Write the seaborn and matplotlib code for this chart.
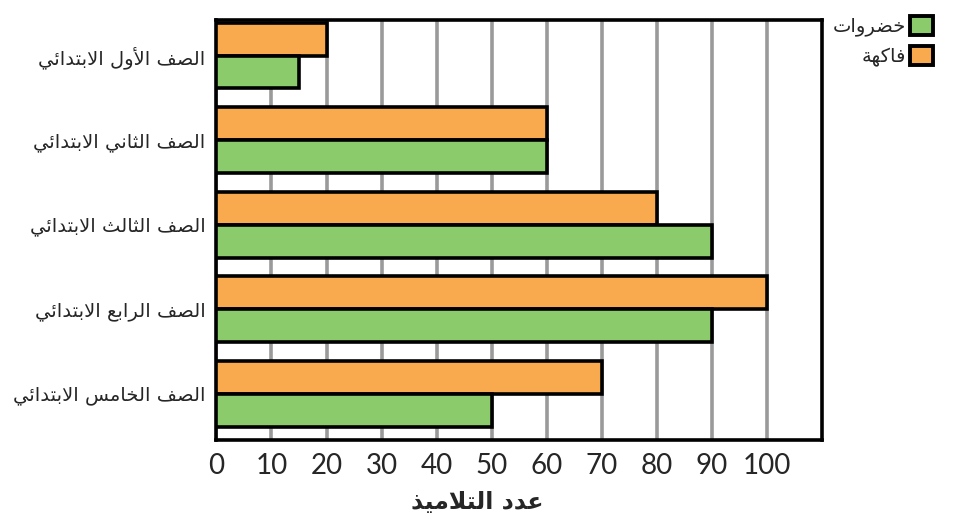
import pandas as pd
import matplotlib.pyplot as plt
import seaborn as sns
from matplotlib.patches import Patch

# data
grades = ["الصف الأول الابتدائي", "الصف الثاني الابتدائي", "الصف الثالث الابتدائي",
          "الصف الرابع الابتدائي", "الصف الخامس الابتدائي"]
veg_label = "خضروات"
fruit_label = "فاكهة"
veg_values = [15, 60, 90, 90, 50]
fruit_values = [20, 60, 80, 100, 70]
x_ticks = [0, 10, 20, 30, 40, 50, 60, 70, 80, 90, 100]
x_title = "عدد التلاميذ"

green = "#8CCB6C"
orange = "#F9AA4E"

# matplotlib does no arabic shaping, so pick presentation forms by hand and flip to RTL
FORMS = {'ء': (0xFE80, 1), 'أ': (0xFE83, 2), 'ئ': (0xFE89, 4), 'ا': (0xFE8D, 2),
         'ب': (0xFE8F, 4), 'ة': (0xFE93, 2), 'ت': (0xFE95, 4), 'ث': (0xFE99, 4),
         'خ': (0xFEA5, 4), 'د': (0xFEA9, 2), 'ذ': (0xFEAB, 2), 'ر': (0xFEAD, 2),
         'س': (0xFEB1, 4), 'ص': (0xFEB9, 4), 'ض': (0xFEBD, 4), 'ع': (0xFEC9, 4),
         'ف': (0xFED1, 4), 'ك': (0xFED9, 4), 'ل': (0xFEDD, 4), 'م': (0xFEE1, 4),
         'ن': (0xFEE5, 4), 'ه': (0xFEE9, 4), 'و': (0xFEED, 2), 'ي': (0xFEF1, 4),
         'لا': (0xFEFB, 2), 'لأ': (0xFEF7, 2)}


def rtl(s):
    units = []
    i = 0
    while i < len(s):
        if s[i] == 'ل' and i + 1 < len(s) and s[i + 1] in 'اأ':
            units.append(s[i:i + 2])
            i += 2
        else:
            units.append(s[i])
            i += 1
    out = []
    for k, u in enumerate(units):
        if u not in FORMS:
            out.append(u)
            continue
        base, n = FORMS[u]
        prev = units[k - 1] if k > 0 else None
        nxt = units[k + 1] if k + 1 < len(units) else None
        jp = prev in FORMS and FORMS[prev][1] == 4
        jn = n == 4 and nxt in FORMS and FORMS[nxt][1] >= 2
        if jp and jn:
            idx = 3
        elif jp:
            idx = 1
        elif jn:
            idx = 2
        else:
            idx = 0
        out.append(chr(base + idx))
    return "".join(out[::-1])


df = pd.DataFrame({
    "grade": grades * 2,
    "kind": [fruit_label] * len(grades) + [veg_label] * len(grades),
    "value": fruit_values + veg_values,
})

sns.set_style("white")
plt.rcParams['font.family'] = ['DejaVu Sans']

fig, ax = plt.subplots(figsize=(9.66, 5.27), dpi=100)
fig.subplots_adjust(left=0.224, right=0.851, top=0.962, bottom=0.165)

sns.barplot(data=df, x="value", y="grade", hue="kind", order=grades,
            hue_order=[fruit_label, veg_label], palette=[orange, green],
            orient="h", saturation=1, edgecolor="black", linewidth=2.6,
            width=0.78, legend=False, ax=ax, zorder=3)

ax.set_xlim(0, 110)
ax.set_ylim(4.55, -0.42)
ax.set_xticks(x_ticks)
ax.set_xticklabels([str(t) for t in x_ticks], fontsize=20, family=['Lato', 'DejaVu Sans'])
ax.set_yticks(range(len(grades)))
ax.set_yticklabels([rtl(g) for g in grades], fontsize=14)
ax.tick_params(axis="x", length=0, pad=9)
ax.tick_params(axis="y", length=0, pad=8)
ax.xaxis.grid(True, color="#9a9a9a", linewidth=2.6)
ax.set_axisbelow(True)
for sp in ax.spines.values():
    sp.set_visible(True)
    sp.set_color("black")
    sp.set_linewidth(2.6)

ax.set_xlabel(rtl(x_title), fontsize=17, fontweight="bold")
ax.xaxis.set_label_coords(0.43, -0.12)
ax.set_ylabel("")

handles = [Patch(facecolor=green, edgecolor="black", linewidth=2.8, label=rtl(veg_label)),
           Patch(facecolor=orange, edgecolor="black", linewidth=2.8, label=rtl(fruit_label))]
fig.legend(handles=handles, loc="upper right", bbox_to_anchor=(0.982, 1.0),
           frameon=False, markerfirst=False, handlelength=1.2, handleheight=1.15,
           handletextpad=0.2, labelspacing=0.5, fontsize=14, borderpad=0.3)

fig.savefig("out.png", dpi=100)
